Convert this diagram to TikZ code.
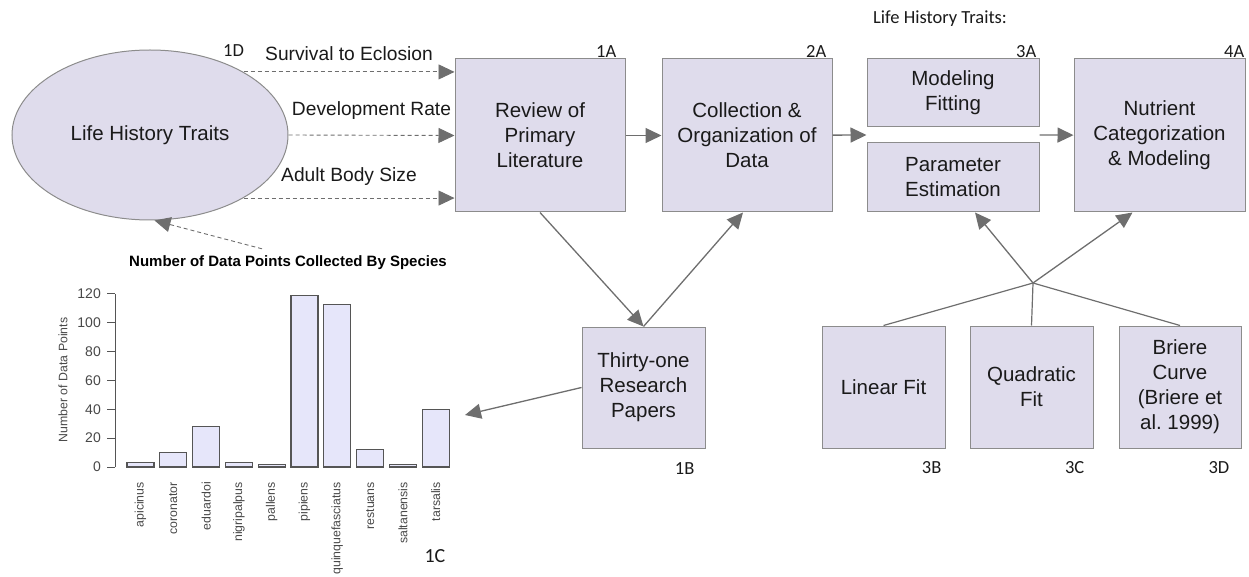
\documentclass[tikz,border=0pt]{standalone}
\usepackage{fontspec}
\setmainfont{Liberation Sans}
\newfontfamily\tagfont{Carlito}
\usetikzlibrary{arrows.meta,positioning,calc,shapes.geometric}
\definecolor{boxfill}{HTML}{DFDCEC}
\definecolor{boxline}{HTML}{8C8C8C}
\definecolor{arrgray}{HTML}{6E6E6E}
\definecolor{inkdark}{HTML}{1A1A1A}
\definecolor{barfill}{HTML}{E6E6FA}
\definecolor{barline}{HTML}{555555}
\tikzset{
  stepbox/.style={draw=boxline, fill=boxfill, line width=1pt, align=center,
                  text=inkdark, inner sep=3pt, font=\fontsize{20.5}{25}\selectfont},
  tag/.style={text=inkdark, inner sep=1pt, font=\tagfont\fontsize{18.5}{22}\selectfont},
  elabel/.style={text=inkdark, inner sep=1pt, font=\fontsize{19.2}{22}\selectfont},
  arr/.style={-{Triangle[length=16pt, width=15pt]}, line width=1.3pt, color=arrgray},
  dasharr/.style={arr, line width=0.9pt, dash pattern=on 4pt off 3pt},
  plainln/.style={line width=1.2pt, color=arrgray},
  chartbar/.style={draw=barline, fill=barfill, line width=1.1pt},
  charttxt/.style={text=inkdark!80, inner sep=1pt, font=\fontsize{12.3}{14}\selectfont}}

\begin{document}
\begin{tikzpicture}[x=1pt, y=-1pt]
  \useasboundingbox (0,0) rectangle (1249,577);

  % life history traits
  \node[stepbox, ellipse, minimum width=276, minimum height=170, inner sep=0pt] (traits) at (150,135)
    {Life History Traits};
  \node[tag, anchor=south west] at (222,58) {1D};

  % top row
  \node[stepbox, minimum width=170, minimum height=153] (lit) at (540,135.5)
    {Review of\\Primary\\Literature};
  \node[stepbox, minimum width=170, minimum height=153] (coll) at (747,135.5)
    {Collection \&\\Organization of\\Data};
  \node[stepbox, minimum width=172, minimum height=68] (fit) at (953,93)
    {Modeling\\Fitting};
  \node[stepbox, minimum width=172, minimum height=69] (par) at (953,177.5)
    {Parameter\\Estimation};
  \node[stepbox, minimum width=171, minimum height=153] (nut) at (1159.5,135.5)
    {Nutrient\\Categorization\\\& Modeling};
  \node[tag, anchor=south east] at ([xshift=-8pt]lit.north east) {1A};
  \node[tag, anchor=south east] at ([xshift=-5pt]coll.north east) {2A};
  \node[tag, anchor=south east] at ([xshift=-2pt]fit.north east) {3A};
  \node[tag, anchor=south east] at (nut.north east) {4A};
  \node[tag, anchor=west] (lhtnote) at (872,19) {Life History Traits:};

  % bottom row
  \node[stepbox, minimum width=123, minimum height=121] (papers) at (643.5,387.5)
    {Thirty-one\\Research\\Papers};
  \node[stepbox, minimum width=123, minimum height=122] (linear) at (883.5,387)
    {Linear Fit};
  \node[stepbox, minimum width=123, minimum height=122] (quad) at (1031.5,387)
    {Quadratic\\Fit};
  \node[stepbox, minimum width=122, minimum height=122] (briere) at (1180,387)
    {Briere\\Curve\\(Briere et\\al.\ 1999)};
  \node[tag, anchor=north east] at ([xshift=-10pt, yshift=-13pt]papers.south east) {1B};
  \node[tag, anchor=north east] at ([xshift=-3pt, yshift=-12pt]linear.south east) {3B};
  \node[tag, anchor=north east] at ([xshift=-8pt, yshift=-12pt]quad.south east) {3C};
  \node[tag, anchor=north east] at ([xshift=-11pt, yshift=-12pt]briere.south east) {3D};

  \coordinate (gapin) at ($(fit.south west)!.5!(par.north west)$);
  \coordinate (gapout) at ($(fit.south east)!.5!(par.north east)$);
  \coordinate (hub) at (1033,283);
  \coordinate (chartin) at (465,415);

  % connectors
  \draw[dasharr] (traits.34) -- (traits.34 -| lit.west)
    node[elabel, midway, above=10pt] {Survival to Eclosion};
  \draw[dasharr] (traits.east) -- (lit.west)
    node[elabel, midway, above=14pt] {Development Rate};
  \draw[dasharr] (traits.-34) -- (traits.-34 -| lit.west)
    node[elabel, midway, above=11pt] {Adult Body Size};
  \draw[arr] (lit) -- (coll);
  \draw[arr] (coll) -- (gapin);
  \draw[arr] (gapout) -- (nut);
  \draw[arr] (lit.south) -- (papers.north);
  \draw[arr] (papers.north) -- ([xshift=-4pt]coll.south);
  \draw[arr] (papers.west) -- (chartin);
  \draw[plainln] (linear.north) -- (hub);
  \draw[plainln] (quad.north) -- (hub);
  \draw[plainln] (briere.north) -- (hub);
  \draw[arr] (hub) -- ([xshift=22pt]par.south);
  \draw[arr] (hub) -- ([xshift=-27pt]nut.south);

  % bar chart
  \node[font=\bfseries\fontsize{15}{17}\selectfont, text=black, inner sep=1pt] (ttl) at (288,263)
    {Number of Data Points Collected By Species};
  \draw[dasharr] ($(ttl.north)+(-26,-6)$) -- (traits.-87);
  \draw[barline, line width=1pt] (115,467) -- (115,294);
  \foreach \v in {0,20,...,120}{
    \draw[barline, line width=1pt] (107,467-1.4417*\v) -- (115,467-1.4417*\v);
    \node[charttxt, anchor=east, font=\fontsize{14}{16}\selectfont] at (102,467-1.4417*\v) {\v};
  }
  \node[charttxt, rotate=90] at (63,380) {Number of Data Points};
  \foreach \nm/\val [count=\i from 0] in {apicinus/3, coronator/10, eduardoi/28,
      nigripalpus/3, pallens/2, pipiens/119, quinquefasciatus/113, restuans/12,
      saltanensis/2, tarsalis/40}{
    \draw[chartbar] (127+32.8*\i,467) rectangle (154+32.8*\i,467-1.4417*\val);
    \node[charttxt, rotate=90, anchor=east] at (140.5+32.8*\i,481) {\nm};
  }
  \node[tag, font=\tagfont\fontsize{20}{22}\selectfont] at (435,556) {1C};
\end{tikzpicture}
\end{document}
